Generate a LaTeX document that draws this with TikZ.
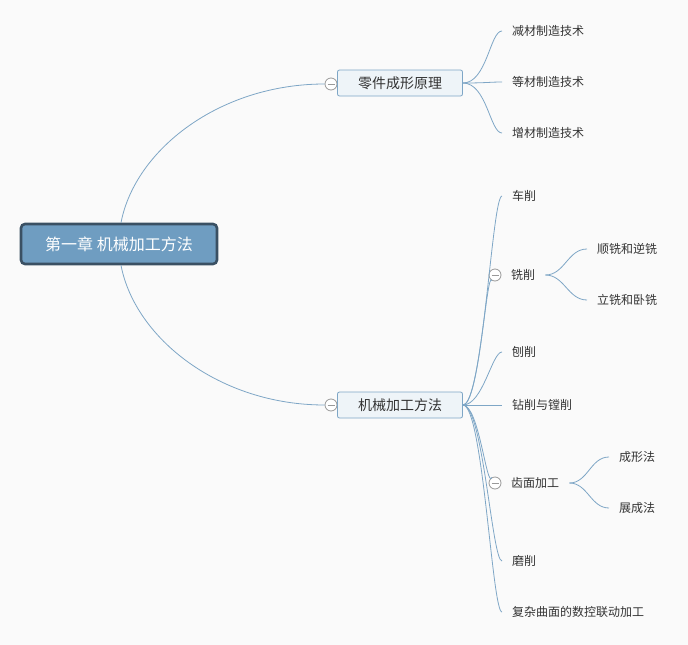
\documentclass[tikz,border=0pt]{standalone}
\usepackage{fontspec}
\setmainfont{Noto Sans CJK SC}
\usetikzlibrary{positioning, calc}

\begin{document}
\begin{tikzpicture}[x=1pt, y=-1pt,
  tema/.style={draw=borda, line width=2.6pt, fill=raiz, rounded corners=4pt, text=white,
    minimum width=196pt, minimum height=40pt, inner sep=0pt, font=\fontsize{16}{18}\selectfont},
  ramo/.style={draw=linha, line width=0.8pt, fill=caixa, rounded corners=2pt, text=texto,
    minimum width=125pt, minimum height=26pt, inner sep=0pt, font=\fontsize{14}{16}\selectfont},
  folha/.style={anchor=west, inner xsep=10pt, inner ysep=2pt, text=texto, font=\fontsize{12}{14}\selectfont},
  botao/.style={circle, draw=cinza, fill=white, line width=0.8pt, minimum size=12pt, inner sep=0pt,
    path picture={\draw[cinza, line width=0.8pt] ([xshift=-3.5pt]path picture bounding box.center) -- ([xshift=3.5pt]path picture bounding box.center);}},
  liga/.style={draw=linha, line width=0.8pt},
]
% --- CORES HEX ---
\definecolor{fundo}{HTML}{FAFAFA}
\definecolor{raiz}{HTML}{6F9DC1}
\definecolor{borda}{HTML}{3A5063}
\definecolor{caixa}{HTML}{EEF4F8}
\definecolor{linha}{HTML}{7EA6C6}
\definecolor{cinza}{HTML}{999999}
\definecolor{texto}{HTML}{333333}

% LAYER 0: Fundo
\fill[fundo] (0,0) rectangle (688,645);
\useasboundingbox (0,0) rectangle (688,645);

% LAYER 1: Tema central e ramos
\node[tema] (cap) at (119,244) {第一章 机械加工方法};

\node[botao] (b1) at (331,84) {};
\node[ramo] (ljcx) at (400,83) {零件成形原理};
\node[botao] (b2) at (331,405) {};
\node[ramo] (jxjg) at (400,405) {机械加工方法};

\draw[liga] ([xshift=2pt]cap.north) .. controls +(14,-73) and +(-105,0) .. (b1.west);
\draw[liga] ([xshift=2pt]cap.south) .. controls +(14,73) and +(-105,0) .. (b2.west);

% LAYER 2: Folhas do primeiro ramo
\node[folha] (jc) at (502,31) {减材制造技术};
\node[folha] (dc) at (502,82) {等材制造技术};
\node[folha] (zc) at (502,133) {增材制造技术};

\foreach \f in {jc,dc,zc}
  \draw[liga] (ljcx.east) .. controls +(24,0) and +(-12,0) .. (\f.west);

% LAYER 3: Folhas do segundo ramo
\node[folha] (cx) at (502,196) {车削};
\node[botao] (b3) at (495,275) {};
\node[folha] (xx) at (501,275) {铣削};
\node[folha] (bx) at (502,352) {刨削};
\node[folha] (zx) at (502,405) {钻削与镗削};
\node[botao] (b4) at (495,483) {};
\node[folha] (cm) at (501,483) {齿面加工};
\node[folha] (mx) at (502,561) {磨削};
\node[folha] (fz) at (502,612) {复杂曲面的数控联动加工};

\foreach \f in {cx,bx,mx,fz}
  \draw[liga] (jxjg.east) .. controls +(20,0) and +(-10,0) .. (\f.west);
\draw[liga] (jxjg.east) .. controls +(16,0) and +(-5,-12) .. (b3.240);
\draw[liga] (jxjg.east) .. controls +(16,0) and +(-5,12) .. (b4.120);
\draw[liga] (jxjg.east) -- (zx.west);

% LAYER 4: Subfolhas
\node[folha] (sn) at (587,249) {顺铣和逆铣};
\node[folha] (lw) at (587,300) {立铣和卧铣};
\node[folha] (cxf) at (609,457) {成形法};
\node[folha] (zcf) at (609,508) {展成法};

\foreach \f in {sn,lw}
  \draw[liga] (xx.east) to[out=0, in=180] (\f.west);
\foreach \f in {cxf,zcf}
  \draw[liga] (cm.east) to[out=0, in=180] (\f.west);
\end{tikzpicture}
\end{document}
